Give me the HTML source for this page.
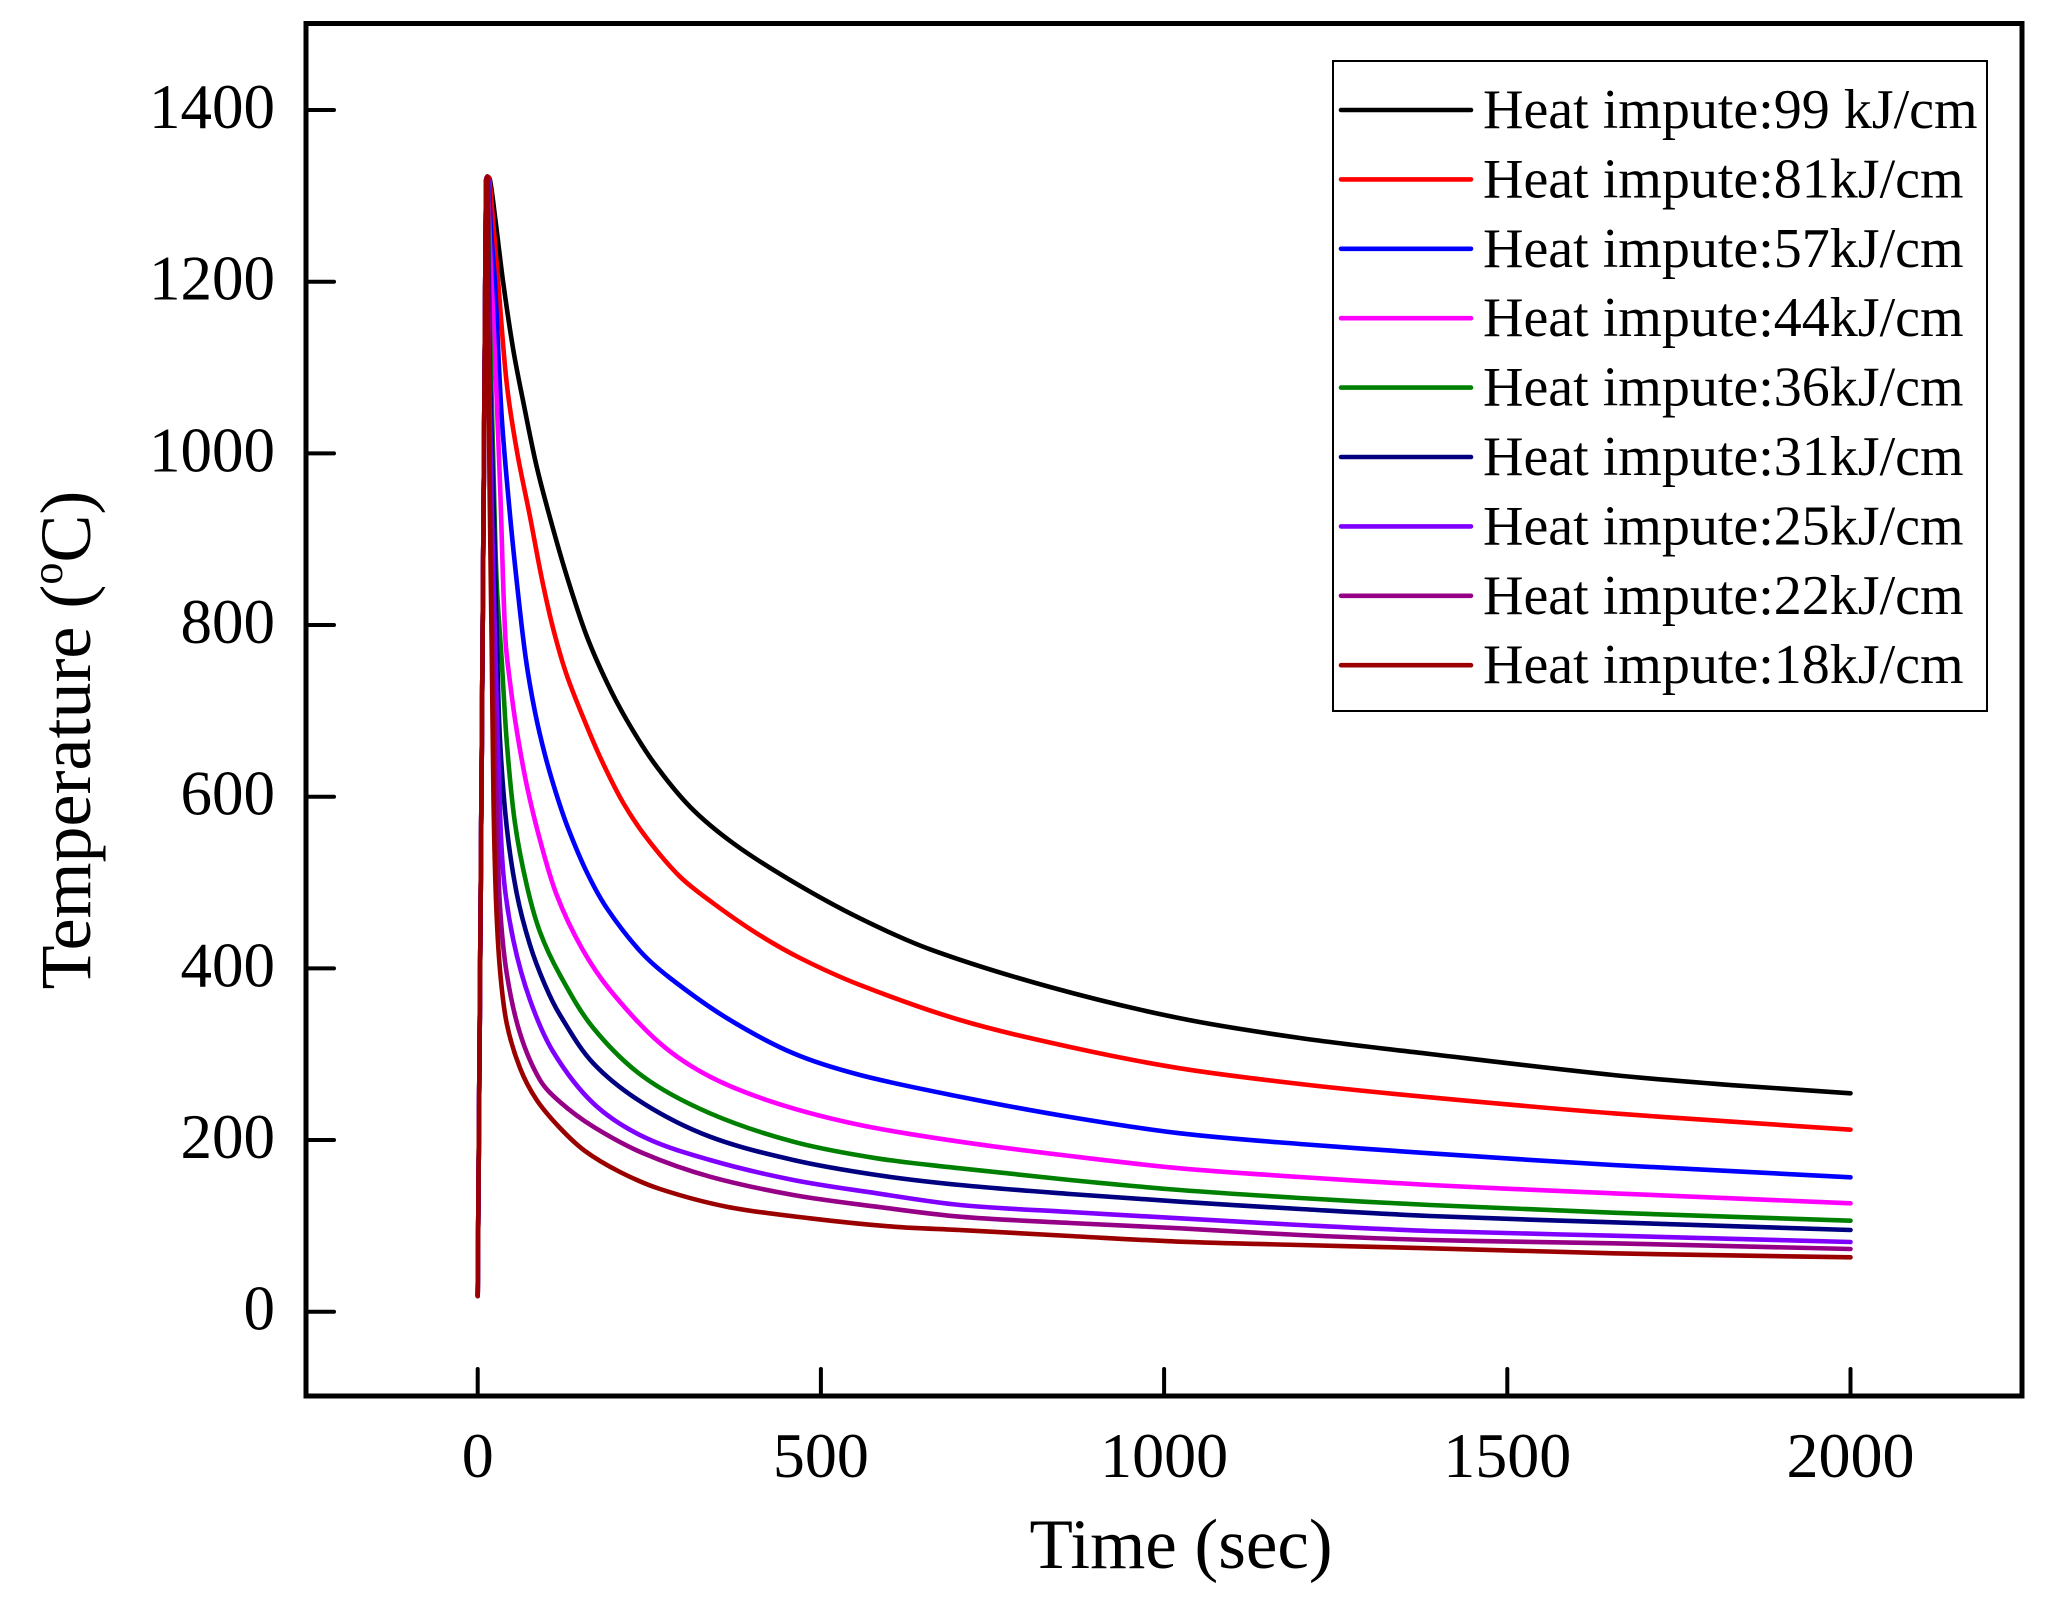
<!DOCTYPE html>
<html>
<head>
<meta charset="utf-8">
<style>
  html, body { margin: 0; padding: 0; background: #ffffff; }
  body { width: 2047px; height: 1598px; overflow: hidden; }
  svg { display: block; }
  text { font-family: "Liberation Serif", "Times New Roman", serif; fill: #000; }
</style>
</head>
<body>
<svg id="chart" width="2047" height="1598" viewBox="0 0 2047 1598" xmlns="http://www.w3.org/2000/svg">
  <rect x="0" y="0" width="2047" height="1598" fill="#ffffff"/>

  <!-- curves -->
  <g id="curves" fill="none" stroke-width="4.6" stroke-linejoin="round" stroke-linecap="round">
    <polyline stroke="#000000" points="477.7,1296 486,182 487.5,177 490,180 495,216.7 503.3,283.3 513.3,350 523.3,402 536.7,466.7 552,525 568,580 586.7,636 606.7,682 626.7,720 653.3,762 690,806.7 733.3,843.3 790,880 856.7,916.7 930,949.3 1050,987 1180,1018.3 1300,1038 1430,1054 1613,1075 1730,1085 1850.5,1093.3"/>
    <polyline stroke="#ff0000" points="477.7,1296 486,182 487.5,177 489.5,181 493.3,223.3 498.3,283.3 506.7,383.3 516.7,450 530,516.7 541.7,578 553,628 566.7,675 586.7,726 603.3,764 623.3,803 646.7,838 680,876.7 713.3,903.3 756.7,933.3 800,958 860,985 960,1020 1070,1047 1180,1068.3 1300,1084 1430,1097.3 1613,1113.3 1850.5,1129.7"/>
    <polyline stroke="#0000ff" points="477.7,1296 486,182 487.5,177 489,190 491,230 495,283.3 501.7,416.7 510,515 518,593 526,660 535,712 545,755 556,793 568,828 586.7,872 606.7,908 640,951 670,978 726.7,1018 793.3,1053.3 860,1075 960,1096.7 1070,1117 1180,1133.3 1300,1144 1430,1153.3 1613,1165 1850.5,1177.3"/>
    <polyline stroke="#ff00ff" points="477.7,1296 486,182 487.5,177 488.5,200 490.5,260 493.3,316.7 500,483.3 505.5,640 511,690 517,732 526.7,785 540,840 556.7,895 581.7,948 610,990 660,1043.3 710,1076.7 776.7,1103.3 860,1125 960,1141.7 1070,1156 1180,1168.3 1300,1177 1430,1185 1613,1193.3 1850.5,1203.3"/>
    <polyline stroke="#008000" points="477.7,1296 486,182 487.5,177 488.5,230 490,330 493,450 496.7,583.3 501.7,660 507,745 515,823.3 526.7,885 540,932 560,975 593.3,1028 643.3,1076.7 710,1113.3 793.3,1141.7 876.7,1158.3 960,1168.3 1070,1180 1180,1190 1300,1198 1430,1205 1613,1212.7 1850.5,1220.7"/>
    <polyline stroke="#000080" points="477.7,1296 486,182 487.5,177 488.3,250 490,380 494,520 497,646.7 500,740 506.7,826.7 516.7,893.3 530,945 545,985 560,1015 593.3,1063.3 643.3,1103.3 710,1136.7 793.3,1160 876.7,1175 960,1185 1070,1194 1180,1201.7 1300,1209 1430,1216 1613,1222.3 1850.5,1230"/>
    <polyline stroke="#8000ff" points="477.7,1296 486,182 487.5,177 488,260 489.5,400 492,520 495,640 499,780 503.3,873.3 513.3,940 530,1000 553.3,1052 593.3,1103.3 643.3,1136.7 710,1160 793.3,1180 876.7,1193.3 960,1205 1070,1212 1180,1218.3 1300,1225 1430,1231 1613,1235.7 1850.5,1242"/>
    <polyline stroke="#960087" points="477.7,1296 486,182 487.5,177 488,300 489.5,450 491.5,580 494,700 497,820 500,906.7 506.7,973.3 520,1033.3 540,1080 560,1102 593.3,1126.7 643.3,1153.3 710,1176.7 793.3,1195 876.7,1206.7 960,1216.7 1070,1223 1180,1228.3 1300,1235 1430,1240 1613,1243.3 1850.5,1249"/>
    <polyline stroke="#9b0000" points="477.7,1296 486,182 487.5,177 488,300 489.5,480 491.7,646.7 493.5,800 496,900 500,970 506.7,1023.3 520,1068 536.7,1100 560,1128 585,1151 620,1172 660,1189 726.7,1206.7 810,1218.3 893.3,1226.7 960,1230 1070,1236 1180,1241.7 1300,1245 1430,1248.3 1613,1253.3 1850.5,1257.3"/>
  </g>

  <!-- frame -->
  <rect x="306" y="23.5" width="1716" height="1372.5" fill="none" stroke="#000" stroke-width="5"/>

  <!-- ticks -->
  <g stroke="#000" stroke-width="4" stroke-linecap="round">
    <line x1="306" y1="1311.7" x2="334" y2="1311.7"/>
    <line x1="306" y1="1140.0" x2="334" y2="1140.0"/>
    <line x1="306" y1="968.4" x2="334" y2="968.4"/>
    <line x1="306" y1="796.7" x2="334" y2="796.7"/>
    <line x1="306" y1="625.0" x2="334" y2="625.0"/>
    <line x1="306" y1="453.4" x2="334" y2="453.4"/>
    <line x1="306" y1="281.7" x2="334" y2="281.7"/>
    <line x1="306" y1="110.0" x2="334" y2="110.0"/>
    <line x1="477.7" y1="1396" x2="477.7" y2="1369"/>
    <line x1="820.9" y1="1396" x2="820.9" y2="1369"/>
    <line x1="1164.1" y1="1396" x2="1164.1" y2="1369"/>
    <line x1="1507.3" y1="1396" x2="1507.3" y2="1369"/>
    <line x1="1850.5" y1="1396" x2="1850.5" y2="1369"/>
  </g>

  <!-- y tick labels -->
  <g font-size="63" text-anchor="end">
    <text x="275" y="1329.7">0</text>
    <text x="275" y="1158.0">200</text>
    <text x="275" y="986.4">400</text>
    <text x="275" y="814.7">600</text>
    <text x="275" y="643.0">800</text>
    <text x="275" y="471.4">1000</text>
    <text x="275" y="299.7">1200</text>
    <text x="275" y="128.0">1400</text>
  </g>

  <!-- x tick labels -->
  <g font-size="64" text-anchor="middle">
    <text x="477.7" y="1477">0</text>
    <text x="820.9" y="1477">500</text>
    <text x="1164.1" y="1477">1000</text>
    <text x="1507.3" y="1477">1500</text>
    <text x="1850.5" y="1477">2000</text>
  </g>

  <!-- axis titles -->
  <text x="1181" y="1568" font-size="71" text-anchor="middle">Time (sec)</text>
  <text transform="translate(90,740) rotate(-90)" font-size="72" text-anchor="middle">Temperature (<tspan font-size="44" dy="-28">o</tspan><tspan dy="28">C)</tspan></text>

  <!-- legend -->
  <rect x="1333" y="61" width="654" height="650" fill="none" stroke="#000" stroke-width="2"/>
  <g stroke-width="4.6" stroke-linecap="round">
    <line x1="1341" y1="110" x2="1471" y2="110" stroke="#000000"/>
    <line x1="1341" y1="179.4" x2="1471" y2="179.4" stroke="#ff0000"/>
    <line x1="1341" y1="248.8" x2="1471" y2="248.8" stroke="#0000ff"/>
    <line x1="1341" y1="318.2" x2="1471" y2="318.2" stroke="#ff00ff"/>
    <line x1="1341" y1="387.6" x2="1471" y2="387.6" stroke="#008000"/>
    <line x1="1341" y1="457" x2="1471" y2="457" stroke="#000080"/>
    <line x1="1341" y1="526.4" x2="1471" y2="526.4" stroke="#8000ff"/>
    <line x1="1341" y1="595.8" x2="1471" y2="595.8" stroke="#960087"/>
    <line x1="1341" y1="665.2" x2="1471" y2="665.2" stroke="#9b0000"/>
  </g>
  <g font-size="56">
    <text x="1483" y="128">Heat impute:99 kJ/cm</text>
    <text x="1483" y="197.4">Heat impute:81kJ/cm</text>
    <text x="1483" y="266.8">Heat impute:57kJ/cm</text>
    <text x="1483" y="336.2">Heat impute:44kJ/cm</text>
    <text x="1483" y="405.6">Heat impute:36kJ/cm</text>
    <text x="1483" y="475">Heat impute:31kJ/cm</text>
    <text x="1483" y="544.4">Heat impute:25kJ/cm</text>
    <text x="1483" y="613.8">Heat impute:22kJ/cm</text>
    <text x="1483" y="683.2">Heat impute:18kJ/cm</text>
  </g>
</svg>
<script>
(function () {
  try {
    var NS = "http://www.w3.org/2000/svg";
    var g = document.getElementById("curves");
    var polys = Array.prototype.slice.call(g.getElementsByTagName("polyline"));
    polys.forEach(function (pl) {
      var raw = pl.getAttribute("points").trim().split(/\s+/);
      var p = raw.map(function (s) { var a = s.split(","); return [parseFloat(a[0]), parseFloat(a[1])]; });
      if (p.length < 3) return;
      function sub(a, b) { return [a[0] - b[0], a[1] - b[1]]; }
      function len(v) { return Math.sqrt(v[0] * v[0] + v[1] * v[1]) || 1; }
      var d = "M" + p[0][0] + "," + p[0][1] + " L" + p[1][0] + "," + p[1][1];
      for (var i = 1; i < p.length - 1; i++) {
        var P0 = p[i - 1], P1 = p[i], P2 = p[i + 1], P3 = p[i + 2] || p[i + 1];
        var seg = len(sub(P2, P1)) / 3;
        var t1 = sub(P2, P0), l1 = len(t1);
        var t2 = sub(P3, P1), l2 = len(t2);
        var c1 = [P1[0] + t1[0] / l1 * seg, P1[1] + t1[1] / l1 * seg];
        var c2 = [P2[0] - t2[0] / l2 * seg, P2[1] - t2[1] / l2 * seg];
        d += " C" + c1[0].toFixed(2) + "," + c1[1].toFixed(2) + " " +
             c2[0].toFixed(2) + "," + c2[1].toFixed(2) + " " +
             P2[0] + "," + P2[1];
      }
      var path = document.createElementNS(NS, "path");
      path.setAttribute("d", d);
      path.setAttribute("stroke", pl.getAttribute("stroke"));
      path.setAttribute("fill", "none");
      g.replaceChild(path, pl);
    });
  } catch (e) {}
})();
</script>
</body>
</html>
